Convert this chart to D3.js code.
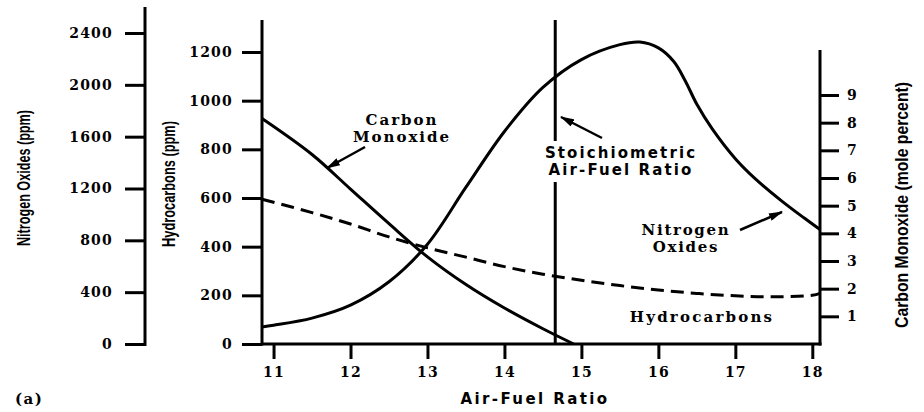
<!DOCTYPE html>
<html>
<head>
<meta charset="utf-8">
<script src="https://cdn.jsdelivr.net/npm/d3@7"></script>
<style>
  html, body { margin: 0; padding: 0; background: #fff; }
  svg { display: block; }
  .tick text { font-family: "DejaVu Serif", serif; font-weight: bold; font-size: 14px; letter-spacing: 1.2px; fill: #000; }
  .tick line { stroke: #000; stroke-width: 3px; }
  .domain { display: none; }
</style>
</head>
<body>
<svg id="chart" width="924" height="412"></svg>
<script>
// ---------- data ----------
const noxAFR  = [10.85, 11.0, 11.5, 12.0, 12.5, 13.0, 13.5, 14.0, 14.5, 15.0, 15.5, 15.76, 16.0, 16.2, 16.35, 16.5, 16.7, 17.0, 17.25, 17.6, 17.9, 18.1];
const noxPPM  = [132, 145, 200, 300, 480, 770, 1210, 1640, 1980, 2195, 2310, 2330, 2285, 2180, 2030, 1850, 1660, 1430, 1280, 1105, 970, 883];

const coAFR   = [10.85, 11.5, 12.0, 12.5, 13.0, 13.5, 14.0, 14.5, 14.9];
const coPct   = [8.15, 6.85, 5.6, 4.35, 3.15, 2.15, 1.3, 0.55, 0];

const hcAFR   = [10.85, 11.5, 12.0, 12.5, 13.0, 13.5, 14.0, 14.5, 15.0, 15.5, 16.0, 16.5, 17.0, 17.5, 18.0, 18.1];
const hcPPM   = [595, 540, 493, 440, 395, 357, 318, 287, 262, 240, 222, 208, 198, 194, 200, 208];

const xTicks   = [11, 12, 13, 14, 15, 16, 17, 18];
const noxTicks = [0, 400, 800, 1200, 1600, 2000, 2400];
const hcTicks  = [0, 200, 400, 600, 800, 1000, 1200];
const coTicks  = [1, 2, 3, 4, 5, 6, 7, 8, 9];
const stoichAFR = 14.66;

// ---------- scales ----------
const svg = d3.select("#chart");
const x    = d3.scaleLinear().domain([10.85, 18.1]).range([262, 820]);
const yNOx = d3.scaleLinear().domain([0, 2400]).range([344, 33]);
const yHC  = d3.scaleLinear().domain([0, 1200]).range([344, 52]);
const yCO  = d3.scaleLinear().domain([0, 9]).range([344, 95]);

const axisStroke = 3;
function vline(xp, y1, y2, w) {
  return svg.append("line").attr("x1", xp).attr("x2", xp).attr("y1", y1).attr("y2", y2)
     .attr("stroke", "#000").attr("stroke-width", w || axisStroke);
}

// NOx axis (far left)
const noxX = x.range()[0] - 117;
svg.append("g").attr("transform", `translate(${noxX},0)`)
   .call(d3.axisLeft(yNOx).tickValues(noxTicks).tickFormat(d3.format("d")).tickSize(20).tickPadding(12));
vline(noxX, yNOx(2400) - 26, yNOx(0) + 2);

// HC axis (plot left edge)
svg.append("g").attr("transform", `translate(${x.range()[0]},0)`)
   .call(d3.axisLeft(yHC).tickValues(hcTicks).tickFormat(d3.format("d")).tickSize(20).tickPadding(9));
vline(x.range()[0], yHC(1200) - 32, yHC(0) + 1.5);

// bottom axis
svg.append("g").attr("transform", `translate(0,${yHC(0)})`)
   .call(d3.axisBottom(x).tickValues(xTicks).tickSize(15).tickPadding(8));
svg.append("line").attr("x1", x.range()[0]).attr("x2", x.range()[1] + 1.5)
   .attr("y1", yHC(0)).attr("y2", yHC(0)).attr("stroke", "#000").attr("stroke-width", axisStroke);

// CO axis (right)
svg.append("g").attr("transform", `translate(${x.range()[1]},0)`)
   .call(d3.axisRight(yCO).tickValues(coTicks).tickSize(19).tickPadding(8));
vline(x.range()[1], yCO(9) - 45, yCO(0) + 1.5);

// ---------- curves ----------
const smooth = d3.curveCatmullRom.alpha(0.5);
const lineNOx = d3.line().x((d, i) => x(noxAFR[i])).y(d => yNOx(d)).curve(smooth);
const lineCO  = d3.line().x((d, i) => x(coAFR[i])).y(d => yCO(d)).curve(smooth);
const lineHC  = d3.line().x((d, i) => x(hcAFR[i])).y(d => yHC(d)).curve(smooth);

svg.append("path").attr("d", lineNOx(noxPPM)).attr("fill", "none").attr("stroke", "#000").attr("stroke-width", 3);
svg.append("path").attr("d", lineCO(coPct)).attr("fill", "none").attr("stroke", "#000").attr("stroke-width", 3);
svg.append("path").attr("d", lineHC(hcPPM)).attr("fill", "none").attr("stroke", "#000").attr("stroke-width", 3)
   .attr("stroke-dasharray", "13,7");

// stoichiometric line
vline(x(stoichAFR), yHC(1200) - 32, yHC(0), 3);

// ---------- annotations ----------
const defs = svg.append("defs");
defs.append("marker").attr("id", "ah").attr("viewBox", "0 0 14 8").attr("refX", 13).attr("refY", 4)
    .attr("markerWidth", 14).attr("markerHeight", 8).attr("markerUnits", "userSpaceOnUse").attr("orient", "auto")
    .append("path").attr("d", "M0,0 L14,4 L0,8 Z").attr("fill", "#000");

function arrow(x1, y1, x2, y2) {
  svg.append("line").attr("x1", x1).attr("y1", y1).attr("x2", x2).attr("y2", y2)
     .attr("stroke", "#000").attr("stroke-width", 2.5).attr("marker-end", "url(#ah)");
}
function label(lines, cx, y0, dy, family, size, spacing) {
  const t = svg.append("text").attr("text-anchor", "middle")
     .attr("font-family", family).attr("font-weight", "bold").attr("font-size", size)
     .attr("letter-spacing", spacing || 0).attr("fill", "#000");
  lines.forEach((s, i) => t.append("tspan").attr("x", cx).attr("y", y0 + i * dy).text(s));
  return t;
}

label(["Carbon", "Monoxide"], 402, 125, 17, "DejaVu Serif", 15, 2);
arrow(365, 147, 327, 168);

// Stoichiometric label with white backing to break the vertical line
const st = label(["Stoichiometric", "Air-Fuel Ratio"], 621, 158, 17, "DejaVu Sans", 15, 2.1);
const bb = st.node().getBBox();
svg.insert("rect", () => st.node()).attr("x", bb.x - 2).attr("y", bb.y - 3)
   .attr("width", bb.width + 4).attr("height", bb.height + 6).attr("fill", "#fff");
arrow(602, 138, 561, 117);

label(["Nitrogen", "Oxides"], 686, 235, 17, "DejaVu Serif", 15, 1.7);
arrow(740, 230, 782, 212);

label(["Hydrocarbons"], 702, 322, 0, "DejaVu Serif", 15, 2.2);

// axis titles
svg.append("text").attr("x", 535).attr("y", 404).attr("text-anchor", "middle")
   .attr("font-family", "DejaVu Sans").attr("font-weight", "bold").attr("font-size", 15).attr("letter-spacing", 2.4)
   .text("Air-Fuel Ratio");

function vtitle(txt, cx, cy, size, len) {
  svg.append("text").attr("transform", `translate(${cx},${cy}) rotate(-90)`).attr("text-anchor", "middle")
     .attr("dominant-baseline", "middle")
     .attr("font-family", "Liberation Sans, sans-serif").attr("font-weight", "bold")
     .attr("font-size", size).attr("textLength", len).attr("lengthAdjust", "spacingAndGlyphs").text(txt);
}
vtitle("Nitrogen Oxides (ppm)", 25, 178, 19, 136);
vtitle("Hydrocarbons (ppm)", 170, 184, 19, 126);
vtitle("Carbon Monoxide (mole percent)", 903, 205, 19, 246);

svg.append("text").attr("x", 15).attr("y", 404)
   .attr("font-family", "DejaVu Serif").attr("font-weight", "bold").attr("font-size", 15).attr("letter-spacing", 1.5).text("(a)");
</script>
</body>
</html>
